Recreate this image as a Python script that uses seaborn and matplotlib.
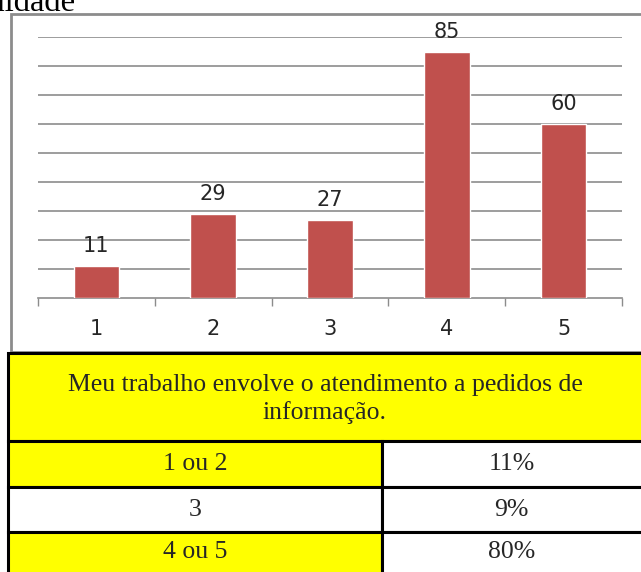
import matplotlib
matplotlib.use('Agg')
import matplotlib.pyplot as plt
import seaborn as sns
import pandas as pd
from matplotlib.patches import Rectangle

# chart data
categories = ['1', '2', '3', '4', '5']
counts = [11, 29, 27, 85, 60]

# table under the chart
table_title = 'Meu trabalho envolve o atendimento a pedidos de\ninformação.'
table_groups = ['1 ou 2', '3', '4 ou 5']
table_pcts = ['11%', '9%', '80%']

W, H = 641, 572
BAR_RED = '#C0504D'
GRID = '#8C8C8C'
YELLOW = '#FFFF00'


def fx(px):
    return px / W


def fy(py):
    return 1 - py / H


sns.set_style('white')
fig = plt.figure(figsize=(W / 100, H / 100), dpi=100)

# heading cut off by the top-left edge, as in the scan
fig.text(fx(76), fy(11), 'Unidade', ha='right', va='baseline',
         fontsize=23.5, family='Liberation Serif', color='black')

# grey frame around the chart
fig.patches.append(Rectangle((fx(11), fy(352)), fx(700) - fx(11), fy(14) - fy(352),
                             transform=fig.transFigure, fill=False,
                             edgecolor='#8C8C8C', linewidth=2, zorder=0))

ax = fig.add_axes([fx(38), fy(298), fx(622) - fx(38), fy(37) - fy(298)])
df = pd.DataFrame({'nota': categories, 'qtd': counts})
sns.barplot(data=df, x='nota', y='qtd', color=BAR_RED, width=0.39,
            saturation=1, ax=ax, zorder=3)
ax.bar_label(ax.containers[0], padding=7, fontsize=15,
             color='#262626', family='DejaVu Sans')

ax.set_ylim(0, 90)
ax.set_xlim(-0.5, len(categories) - 0.5)
ax.set_yticks(range(10, 91, 10))
ax.yaxis.grid(True, color=GRID, linewidth=1.2)
ax.set_axisbelow(True)
ax.tick_params(axis='y', left=False, labelleft=False)
ax.set_xticks(range(len(categories)))
ax.set_xticks([i - 0.5 for i in range(len(categories) + 1)], minor=True)
ax.tick_params(axis='x', which='major', length=0, pad=15, labelsize=15,
               labelcolor='#262626')
ax.tick_params(axis='x', which='minor', length=6, width=1, color=GRID,
               direction='out', bottom=True)
for s in ['left', 'right', 'top']:
    ax.spines[s].set_visible(False)
ax.spines['bottom'].set_color(GRID)
ax.spines['bottom'].set_linewidth(1.2)
ax.set_xlabel('')
ax.set_ylabel('')
ax.patch.set_alpha(0)

# table drawn as cells
x0, xs, x1 = 8, 382, 660
rows_y = [441, 487, 532, 580]


def cell(xa, ya, xb, yb, face):
    fig.patches.append(Rectangle((fx(xa), fy(yb)), fx(xb) - fx(xa), fy(ya) - fy(yb),
                                 transform=fig.transFigure, facecolor=face,
                                 edgecolor='black', linewidth=2.2, zorder=2))


cell(x0, 353, x1, 441, YELLOW)
fig.text(fx(325), fy(399), table_title, ha='center', va='center',
         fontsize=18.5, family='Liberation Serif', linespacing=1.25)
for i, (grp, pct) in enumerate(zip(table_groups, table_pcts)):
    ya, yb = rows_y[i], rows_y[i + 1]
    left_face = YELLOW if grp != '3' else 'white'
    cell(x0, ya, xs, yb, left_face)
    cell(xs, ya, x1, yb, 'white')
    yc = (ya + yb) / 2 if i < 2 else 552
    fig.text(fx((x0 + xs) / 2), fy(yc), grp, ha='center', va='center',
             fontsize=18.5, family='Liberation Serif')
    fig.text(fx((xs + 641) / 2), fy(yc), pct, ha='center', va='center',
             fontsize=18.5, family='Liberation Serif')

fig.savefig('out.png', dpi=100)
